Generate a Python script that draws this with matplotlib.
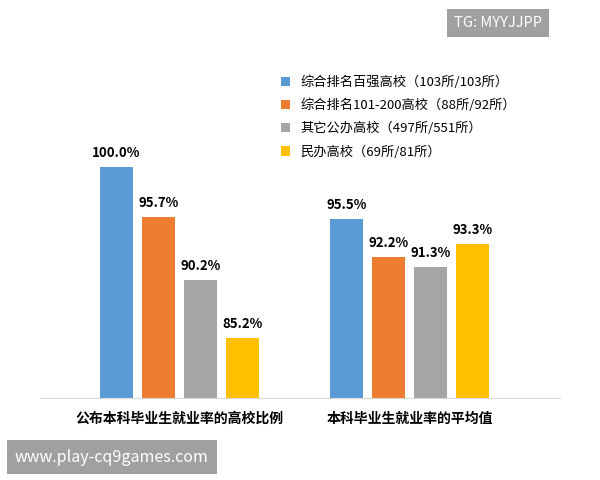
import matplotlib.pyplot as plt
import numpy as np

plt.rcParams['font.family'] = ['Noto Sans CJK SC', 'DejaVu Sans']

categories = ['公布本科毕业生就业率的高校比例', '本科毕业生就业率的平均值']
series = ['综合排名百强高校（103所/103所）', '综合排名101-200高校（88所/92所）',
          '其它公办高校（497所/551所）', '民办高校（69所/81所）']
values = [[100.0, 95.5], [95.7, 92.2], [90.2, 91.3], [85.2, 93.3]]
colors = ['#5B9BD5', '#ED7D31', '#A5A5A5', '#FFC000']

fig = plt.figure(figsize=(6, 4.8), dpi=100)
ax = fig.add_axes([0.0667, 0.171, 0.8667, 0.704])
x = np.arange(len(categories))
step, width = 0.1826, 0.1435
for i, (name, vals, c) in enumerate(zip(series, values, colors)):
    pos = x + (i - 1.5) * step
    ax.bar(pos, vals, width, color=c, label=name)
    for p, v in zip(pos, vals):
        ax.text(p, v + 0.6, f'{v:.1f}%', ha='center', va='bottom',
                fontsize=9.5, fontweight='bold')

ax.set_xlim(-0.6065, 1.654)
ax.set_ylim(80, 109.26)
ax.set_yticks([])
ax.set_xticks(x)
ax.set_xticklabels(categories, fontsize=10, fontweight='bold')
ax.tick_params(axis='x', length=0, pad=10)
for s in ['top', 'right', 'left']:
    ax.spines[s].set_visible(False)
ax.spines['bottom'].set_color('#D9D9D9')

ax.legend(loc='upper left', bbox_to_anchor=(0.44, 0.99), frameon=False,
          fontsize=9.5, handlelength=0.7, handleheight=0.7, labelspacing=0.75)

fig.text(0.757, 0.943, 'TG: MYYJJPP', fontsize=10.5, color='white',
         bbox=dict(facecolor='#A0A0A0', edgecolor='none', pad=5))
fig.text(0.025, 0.038, 'www.play-cq9games.com', fontsize=11.5, color='white',
         bbox=dict(facecolor='#A0A0A0', edgecolor='none', pad=6))

fig.savefig('out.png', dpi=100)
